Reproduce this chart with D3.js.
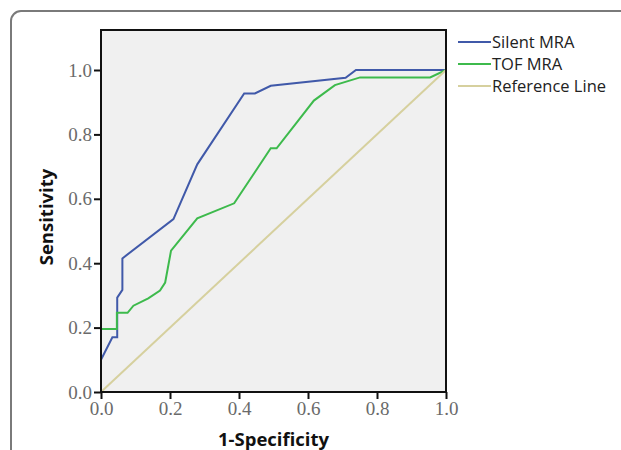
<!DOCTYPE html>
<html>
<head>
<meta charset="utf-8">
<script src="https://cdn.jsdelivr.net/npm/d3@7"></script>
<style>
  body { margin: 0; background: #fff; }
</style>
</head>
<body>
<div class="main-container"></div>
<script>
// ROC points: [1-specificity, sensitivity]
var silentMRA = [[0, 0], [0, 0.10], [0.033, 0.17], [0.047, 0.17], [0.047, 0.293], [0.062, 0.317],
  [0.062, 0.415], [0.21, 0.537], [0.279, 0.707], [0.415, 0.927], [0.446, 0.927],
  [0.492, 0.951], [0.709, 0.976], [0.739, 1], [1, 1]];
var tofMRA = [[0, 0], [0, 0.196], [0.046, 0.196], [0.046, 0.246], [0.077, 0.246], [0.094, 0.268],
  [0.137, 0.291], [0.171, 0.315], [0.186, 0.34], [0.203, 0.439], [0.279, 0.539],
  [0.386, 0.586], [0.492, 0.757], [0.509, 0.757], [0.617, 0.905], [0.678, 0.953],
  [0.751, 0.977], [0.954, 0.977], [1, 1]];
var referenceLine = [[0, 0], [1, 1]];
var seriesNames = ["Silent MRA", "TOF MRA", "Reference Line"];
var seriesColors = ["#4059a9", "#3dba4c", "#d6d09e"];
var tickValues = [0, 0.2, 0.4, 0.6, 0.8, 1.0];

var svg = d3.select(".main-container")
  .append("svg")
  .attr("width", 621)
  .attr("height", 450);

// journal figure frame
svg.append("rect")
  .attr("x", 11).attr("y", 11)
  .attr("width", 640).attr("height", 480)
  .attr("rx", 10)
  .style("fill", "none")
  .style("stroke", "#7a7a7a")
  .style("stroke-width", 2);

var plotLeft = 101, plotRight = 446, plotTop = 30, plotBottom = 392;
var x = d3.scaleLinear().domain([0, 1]).range([plotLeft, plotRight]);
var y = d3.scaleLinear().domain([0, 1]).range([plotBottom, 70]);

svg.append("rect")
  .attr("x", plotLeft).attr("y", plotTop)
  .attr("width", plotRight - plotLeft).attr("height", plotBottom - plotTop)
  .style("fill", "#f0f0f0");

var line = d3.line()
  .x(function (d) { return x(d[0]); })
  .y(function (d) { return y(d[1]); });

var plot = svg.append("g");
[silentMRA, tofMRA, referenceLine].forEach(function (s, i) {
  plot.append("path")
    .datum(s)
    .attr("d", line)
    .style("fill", "none")
    .style("stroke", seriesColors[i])
    .style("stroke-width", 2);
});

// frame of plot area
svg.append("rect")
  .attr("x", plotLeft).attr("y", plotTop)
  .attr("width", plotRight - plotLeft).attr("height", plotBottom - plotTop)
  .style("fill", "none")
  .style("stroke", "#111")
  .style("stroke-width", 2);

var xAxis = svg.append("g")
  .attr("transform", "translate(0," + plotBottom + ")")
  .call(d3.axisBottom(x).tickValues(tickValues).tickFormat(d3.format(".1f")).tickSize(7).tickPadding(3));
var yAxis = svg.append("g")
  .attr("transform", "translate(" + plotLeft + ",0)")
  .call(d3.axisLeft(y).tickValues(tickValues).tickFormat(d3.format(".1f")).tickSize(7).tickPadding(2));

[xAxis, yAxis].forEach(function (a) {
  a.select(".domain").remove();
  a.selectAll(".tick line").style("stroke", "#111").style("stroke-width", 2);
  a.selectAll(".tick text")
    .style("font-family", "'Liberation Serif', 'DejaVu Serif', serif")
    .style("font-size", "19px")
    .style("fill", "#6a6a6a");
});

svg.append("text")
  .attr("x", (plotLeft + plotRight) / 2)
  .attr("y", 446)
  .attr("text-anchor", "middle")
  .style("font-family", "'Open Sans', sans-serif")
  .style("font-weight", "bold")
  .style("font-size", "18.5px")
  .style("fill", "#111")
  .text("1-Specificity");

svg.append("text")
  .attr("transform", "translate(53,217) rotate(-90)")
  .attr("text-anchor", "middle")
  .style("font-family", "'Open Sans', sans-serif")
  .style("font-weight", "bold")
  .style("font-size", "18.5px")
  .style("fill", "#111")
  .text("Sensitivity");

var legend = svg.append("g");
seriesNames.forEach(function (name, i) {
  var ly = 42 + i * 22;
  legend.append("line")
    .attr("x1", 458).attr("x2", 491)
    .attr("y1", ly).attr("y2", ly)
    .style("stroke", seriesColors[i])
    .style("stroke-width", 2);
  legend.append("text")
    .attr("x", 492).attr("y", ly + 6)
    .style("font-family", "'Open Sans', sans-serif")
    .style("font-size", "16.5px")
    .style("fill", "#222")
    .text(name);
});
</script>
</body>
</html>
